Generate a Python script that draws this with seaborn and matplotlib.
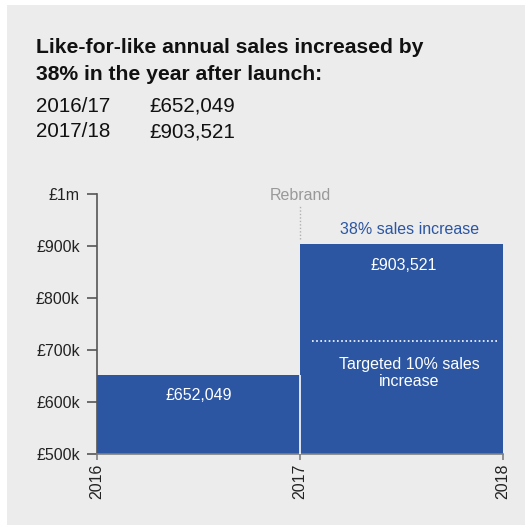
import matplotlib
matplotlib.use("Agg")
import matplotlib.pyplot as plt
from matplotlib.patches import Rectangle
import seaborn as sns
import pandas as pd

# Annual like-for-like sales, each bar spanning its financial year
years = [2016, 2017]
sales = [652049, 903521]
period_labels = ["2016/17", "2017/18"]
sales_labels = ["£652,049", "£903,521"]
target_uplift = 0.10
y_ticks = [500000, 600000, 700000, 800000, 900000, 1000000]
y_tick_labels = ["£500k", "£600k", "£700k", "£800k", "£900k", "£1m"]
x_ticks = [2016, 2017, 2018]

BLUE = "#2c56a2"
PANEL = "#ececec"
W, H, DPI = 525, 527, 100
FS = 11.5

sns.set_theme(style="white")
plt.rcParams["font.family"] = ["Liberation Sans", "DejaVu Sans"]

fig = plt.figure(figsize=(W / DPI, H / DPI), dpi=DPI)
fig.patch.set_facecolor("white")
fig.patches.append(Rectangle((7 / W, 1 - 525 / H), 518 / W, 520 / H,
                             transform=fig.transFigure, facecolor=PANEL,
                             edgecolor="none", zorder=-5))

def fx(px):
    return px / W

def fy(px):
    return 1 - px / H

# Header text
fig.text(fx(36), fy(53), "Like-for-like annual sales increased by",
         fontsize=15.2, fontweight="bold", color="#111111", va="baseline")
fig.text(fx(36), fy(80), "38% in the year after launch:",
         fontsize=15.2, fontweight="bold", color="#111111", va="baseline")
for i, (p, s) in enumerate(zip(period_labels, sales_labels)):
    fig.text(fx(36), fy(112 + 25 * i), p, fontsize=14.9, color="#111111", va="baseline")
    fig.text(fx(149), fy(112 + 25 * i), s, fontsize=14.9, color="#111111", va="baseline")

ax = fig.add_axes([fx(97), fy(453.7), (503 - 97) / W, (453.7 - 193.7) / H])
ax.set_facecolor("none")

df = pd.DataFrame({"mid": [y + 0.5 for y in years], "sales": sales})
sns.barplot(data=df, x="mid", y="sales", native_scale=True, width=1.0,
            color=BLUE, saturation=1, edgecolor="none", linewidth=0, ax=ax)

ax.set_xlim(2016, 2018)
ax.set_ylim(500000, 1000000)
ax.set_xticks(x_ticks)
ax.set_xticklabels([str(t) for t in x_ticks], rotation=90, fontsize=FS, color="#222222")
ax.set_yticks(y_ticks)
ax.set_yticklabels(y_tick_labels, fontsize=FS, color="#222222")
ax.set_xlabel("")
ax.set_ylabel("")

for side in ("top", "right"):
    ax.spines[side].set_visible(False)
ax.spines["left"].set_color("#555555")
ax.spines["left"].set_linewidth(1.2)
ax.spines["bottom"].set_color("#808080")
ax.spines["bottom"].set_linewidth(1.2)
ax.tick_params(axis="y", which="major", direction="out", length=7, width=1.2,
               color="#555555", pad=5.5, left=True)
ax.tick_params(axis="x", which="major", direction="out", length=4, width=1.2,
               color="#808080", pad=3, bottom=True)

# Thin white divider between the two years
ax.vlines(years[1], 500000, sales[0], color="white", linewidth=1.2, zorder=3)

# Rebrand marker
ax.text(years[1], 996000, "Rebrand", ha="center", va="center", fontsize=FS,
        color="#999999", clip_on=False)
ax.vlines(years[1], 913000, 976000, color="#b0b0b0", linewidth=1.0,
          linestyles=(0, (1, 1.5)), zorder=3)

# Annotations on the 2017/18 bar
ax.text(2017.54, 932000, "38% sales increase", ha="center", va="center",
        fontsize=FS, color=BLUE)
ax.text(2017.51, 861000, sales_labels[1], ha="center", va="center",
        fontsize=FS, color="white")
target = sales[0] * (1 + target_uplift)
ax.hlines(target, 2017.06, 2017.98, color="white", linewidth=1.2,
          linestyles=(0, (1, 1.5)), zorder=3)
ax.text(2017.54, 655000, "Targeted 10% sales\nincrease", ha="center", va="center",
        fontsize=FS, color="white", linespacing=1.15)

# Label on the 2016/17 bar
ax.text(2016.5, 611000, sales_labels[0], ha="center", va="center",
        fontsize=FS, color="white")

fig.savefig("out.png", dpi=DPI)
